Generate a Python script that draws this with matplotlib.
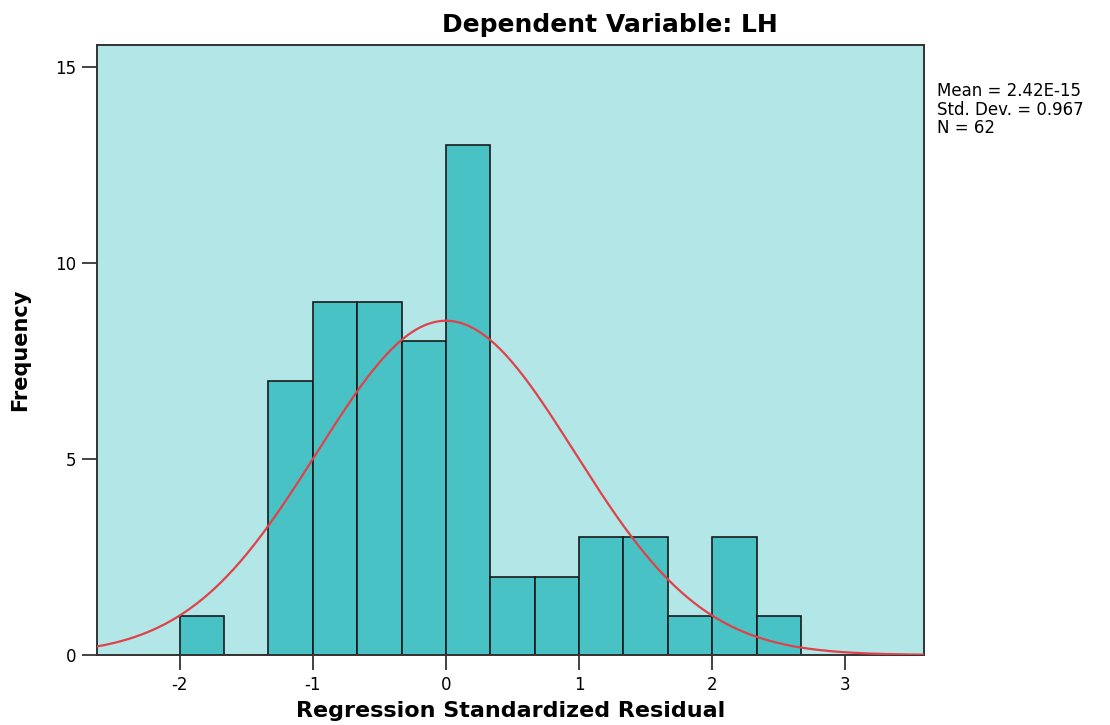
import matplotlib.pyplot as plt
import numpy as np

plt.rcParams['font.family'] = ['DejaVu Sans']
plt.rcParams['axes.unicode_minus'] = False

# residual histogram: bin edges every 1/3 starting at -2
bin_start = -2.0
bin_width = 1.0 / 3.0
counts = [1, 0, 7, 9, 9, 8, 13, 2, 2, 3, 3, 1, 3, 1]
mean = 2.42e-15
std = 0.967
n = 62

edges = bin_start + bin_width * np.arange(len(counts) + 1)

fig = plt.figure(figsize=(11.1, 7.25), dpi=100)
ax = fig.add_axes([97 / 1110, 70 / 725, 827 / 1110, 610 / 725])
ax.set_facecolor('#b3e6e7')

ax.bar(edges[:-1], counts, width=bin_width, align='edge',
       color='#48c2c5', edgecolor='#1a1a1a', linewidth=1.2, zorder=2)

# normal curve scaled to counts
xs = np.linspace(-2.62, 3.59, 400)
pdf = np.exp(-0.5 * ((xs - mean) / std) ** 2) / (std * np.sqrt(2 * np.pi))
ax.plot(xs, n * bin_width * pdf, color='#e0424a', linewidth=1.6, zorder=3)

ax.set_xlim(-2.62, 3.59)
ax.set_ylim(0, 15.56)
ax.set_xticks([-2, -1, 0, 1, 2, 3])
ax.set_yticks([0, 5, 10, 15])
ax.tick_params(axis='both', direction='out', length=11, width=1.2,
               color='#222222', labelsize=12, pad=4)
for s in ax.spines.values():
    s.set_color('#333333')
    s.set_linewidth(1.4)

ax.set_xlabel('Regression Standardized Residual', fontsize=16,
              fontweight='bold', labelpad=5)
ax.set_ylabel('Frequency', fontsize=15, fontweight='bold', labelpad=18)
fig.text(610 / 1110, 1 - 25 / 725, 'Dependent Variable: LH',
         fontsize=18, fontweight='bold', ha='center', va='center')

fig.text(937 / 1110, 1 - 82 / 725,
         'Mean = 2.42E-15\nStd. Dev. = 0.967\nN = 62',
         fontsize=12, va='top', ha='left', linespacing=1.05)

fig.savefig('out.png', dpi=100)
